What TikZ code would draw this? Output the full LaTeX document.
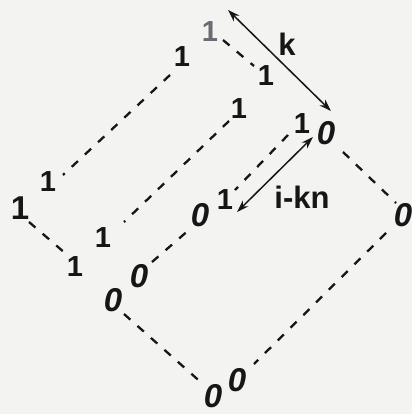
\documentclass[tikz,border=0pt]{standalone}
\usepackage{fontspec}
\setmainfont{Liberation Sans}
\usetikzlibrary{arrows.meta}
\definecolor{paper}{RGB}{243,243,241}
\definecolor{ink}{RGB}{22,22,22}
\definecolor{faint}{RGB}{110,105,115}
\begin{document}
\begin{tikzpicture}[x=1pt,y=-1pt,
  one/.style={font=\fontsize{29}{29}\selectfont\bfseries, inner sep=0pt, text=ink},
  bigone/.style={font=\fontsize{33}{33}\selectfont\bfseries, inner sep=0pt, text=ink},
  zero/.style={font=\fontsize{33}{33}\selectfont\bfseries\itshape, inner sep=0pt, text=ink},
  lbl/.style={font=\fontsize{31}{31}\selectfont\bfseries, inner sep=0pt, text=ink},
  dashline/.style={line width=2.3pt, dash pattern=on 8.5pt off 9.5pt, draw=ink},
  dimarrow/.style={line width=1.5pt, draw=ink, {Stealth[length=12pt,width=8pt]}-{Stealth[length=12pt,width=8pt]}}
]
\fill[paper] (0,0) rectangle (412,414);
\useasboundingbox (0,0) rectangle (412,414);

% digits
\node[one, text=faint] (n1) at (210,32) {1};
\node[one] (n2) at (182,57) {1};
\node[one] (n3) at (266,76) {1};
\node[one] (n4) at (239,109) {1};
\node[one] (n5) at (302,124) {1};
\node[zero] (n6) at (326,133) {0};
\node[one] (n7) at (48,182) {1};
\node[bigone] (n8) at (20,208) {1};
\node[zero] (n9) at (200,215) {0};
\node[one] (n10) at (225,200) {1};
\node[zero] (n11) at (403,215) {0};
\node[one] (n12) at (103,238) {1};
\node[one] (n13) at (75,267) {1};
\node[zero] (n14) at (139,276) {0};
\node[zero] (n15) at (113,300) {0};
\node[zero] (n16) at (237,380) {0};
\node[zero] (n17) at (213,396) {0};

% labels
\node[lbl] (lk) at (287,44) {k};
\node[lbl] (likn) at (302,197) {i-kn};

% dashed line ends
\coordinate (a1) at (170,75);  \coordinate (b1) at (63,175);
\coordinate (a2) at (223,40);  \coordinate (b2) at (254,66);
\coordinate (a3) at (229,121); \coordinate (b3) at (124,222);
\coordinate (a4) at (288,135); \coordinate (b4) at (235,190);
\coordinate (a5) at (343,152); \coordinate (b5) at (396,203);
\coordinate (a6) at (386,233); \coordinate (b6) at (254,364);
\coordinate (a7) at (29,222);  \coordinate (b7) at (65,253);
\coordinate (a8) at (124,314); \coordinate (b8) at (204,385);
\coordinate (a9) at (152,262); \coordinate (b9) at (190,229);

\draw[dashline] (a1) -- (b1);
\draw[dashline] (a2) -- (b2);
\draw[dashline] (a3) -- (b3);
\draw[dashline] (a4) -- (b4);
\draw[dashline] (a5) -- (b5);
\draw[dashline] (a6) -- (b6);
\draw[dashline] (a7) -- (b7);
\draw[dashline] (a8) -- (b8);
\draw[dashline] (a9) -- (b9);

% dimension arrows
\coordinate (k1) at (228,10);  \coordinate (k2) at (331,111);
\coordinate (m1) at (313,137); \coordinate (m2) at (237,212);
\draw[dimarrow] (k1) -- (k2);
\draw[dimarrow] (m1) -- (m2);
\end{tikzpicture}
\end{document}
